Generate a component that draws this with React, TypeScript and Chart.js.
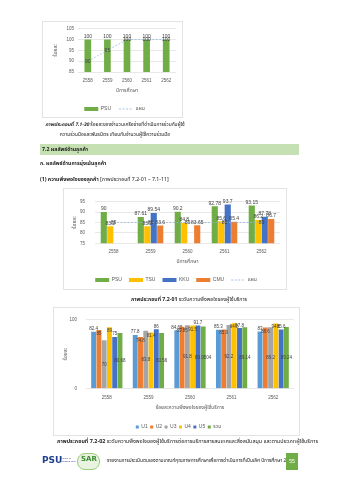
import React, { useEffect, useRef } from "react";
import { Chart, registerables } from "chart.js";

Chart.register(...registerables);

const FONT = "'Liberation Sans','Noto Sans Thai','Noto Sans Thai UI','Loma','Garuda','Tahoma','DejaVu Sans',sans-serif";
const TFONT = "'Noto Sans Thai','Noto Sans Thai UI','Loma','Garuda','Tahoma','Noto Sans','DejaVu Sans',sans-serif";

// ---------- data ----------
const years = ["2558", "2559", "2560", "2561", "2562"];

// chart 1 (ภาพประกอบที่ 7.1-30)
const c1Psu = [100, 100, 100, 100, 100];
const c1Plan = [90, 95, 100, 100, 100];
const c1Min = 85;
const c1Max = 105;
const c1Step = 5;

// chart 2 (ภาพประกอบที่ 7.2-01)
const c2Psu = [90, 87.61, 90.2, 92.78, 93.15];
const c2Tsu = [83.2, 83.2, 84.8, 85.6, 86.2];
const c2Kku = [null, 89.54, null, 93.7, 87.78];
const c2Cmu = [null, 83.6, 83.65, 85.4, 86.7];
const c2Plan = [85, 85, 85, 85, 85];
const c2Min = 75;
const c2Max = 95;
const c2Step = 5;

// chart 3 (ภาพประกอบที่ 7.2-02)
const c3U1 = [82.4, 77.8, 84.65, 85.3, 83];
const c3U2 = [85, 74.8, 89.85, 85.9, 88.6];
const c3U3 = [70, 83.8, 91.8, 92.2, 89.2];
const c3U4 = [89, 81.4, 91.5, 94.8, 94.6];
const c3U5 = [75, 86, 91.7, 87.8, 85.6];
const c3All = [80.68, 80.56, 89.9504, 89.14, 89.24];
const c3Min = 0;
const c3Max = 100;
const c3Step = 100;

// ---------- helpers ----------
const labelPlugin = {
  id: "vlabels",
  afterDatasetsDraw(chart: any) {
    const ctx = chart.ctx;
    const size = chart.options.plugins.vlabels?.size ?? 5;
    chart.data.datasets.forEach((ds: any, i: number) => {
      const meta = chart.getDatasetMeta(i);
      if (meta.hidden || !ds.labelPos) return;
      meta.data.forEach((el: any, j: number) => {
        const v = ds.data[j];
        if (v == null) return;
        ctx.save();
        ctx.font = `${size}px ${FONT}`;
        ctx.fillStyle = "#404040";
        ctx.textAlign = "center";
        let y = el.y;
        if (ds.labelPos === "end") {
          ctx.textBaseline = "bottom";
          y = el.y - 0.5;
        } else if (ds.labelPos === "insideEnd") {
          ctx.textBaseline = "top";
          y = el.y + 1.5;
        } else if (ds.labelPos === "center") {
          ctx.textBaseline = "middle";
          y = (el.y + el.base) / 2;
        } else {
          ctx.textBaseline = "middle";
        }
        ctx.fillText(String(v), el.x, y);
        ctx.restore();
      });
    });
  },
};

function legendLabels(chart: any) {
  const items = (Chart.defaults.plugins.legend.labels as any).generateLabels(chart);
  items.forEach((it: any) => {
    const ds = chart.data.datasets[it.datasetIndex];
    it.pointStyle = ds.type === "line" ? "line" : "rect";
    it.fontColor = "#595959";
    if (ds.type === "line") {
      it.lineWidth = 0.8;
      it.lineDash = [2, 1.5];
    } else {
      it.lineWidth = 0;
    }
  });
  return items;
}

type Geo = {
  yTitleLeft: number;
  yWidth: number;
  yTickPad: number;
  padRight: number;
  padTop: number;
  padBottom: number;
  xHeight: number;
  xTickPad: number;
  xTitlePadBottom: number;
  legendPad: number;
  legendBox: number;
  legendBoxH: number;
};

function makeOptions(g: Geo, min: number, max: number, step: number, xTitle: string, labelSize: number) {
  return {
    responsive: false,
    animation: false,
    devicePixelRatio: 1,
    layout: {
      padding: { left: g.yTitleLeft, right: g.padRight, top: g.padTop, bottom: g.padBottom },
    },
    font: { family: FONT },
    scales: {
      x: {
        grid: { display: false, drawTicks: false },
        border: { display: false },
        ticks: { font: { size: 4.5, family: FONT }, color: "#595959", padding: g.xTickPad, maxRotation: 0 },
        title: {
          display: true,
          text: xTitle,
          font: { size: 5, family: TFONT },
          color: "#595959",
          padding: { top: 0, bottom: g.xTitlePadBottom },
        },
        afterFit: (s: any) => {
          s.height = g.xHeight;
        },
      },
      y: {
        min,
        max,
        ticks: {
          stepSize: step,
          font: { size: 4.5, family: FONT },
          color: "#595959",
          padding: g.yTickPad,
          callback: (v: any) => String(v),
        },
        grid: { color: "#d9d9d9", lineWidth: 0.6, drawTicks: false },
        border: { display: false },
        title: {
          display: true,
          text: "ร้อยละ",
          font: { size: 5, family: TFONT },
          color: "#595959",
          padding: 0,
        },
        afterFit: (s: any) => {
          s.width = g.yWidth;
        },
      },
    },
    plugins: {
      vlabels: { size: labelSize },
      tooltip: { enabled: false },
      legend: {
        position: "bottom",
        labels: {
          usePointStyle: true,
          pointStyleWidth: g.legendBox,
          boxHeight: g.legendBoxH,
          padding: g.legendPad,
          font: { size: 5, family: FONT },
          color: "#595959",
          generateLabels: legendLabels,
          sort: (a: any, b: any) => a.datasetIndex - b.datasetIndex,
        },
      },
    },
  };
}

function ChartCanvas(props: { left: number; top: number; width: number; height: number; config: any }) {
  const ref = useRef<HTMLCanvasElement>(null);
  useEffect(() => {
    const chart = new Chart(ref.current as HTMLCanvasElement, props.config);
    return () => chart.destroy();
  }, []);
  return (
    <canvas
      ref={ref}
      width={props.width}
      height={props.height}
      style={{ position: "absolute", left: props.left, top: props.top, width: props.width, height: props.height }}
    />
  );
}

// ---------- configs ----------
const chart1Config = {
  type: "bar",
  data: {
    labels: years,
    datasets: [
      {
        type: "bar",
        label: "PSU",
        data: c1Psu,
        backgroundColor: "#70ad47",
        categoryPercentage: 0.34,
        barPercentage: 1,
        labelPos: "end",
        order: 1,
      },
      {
        type: "line",
        label: "แผน",
        data: c1Plan,
        borderColor: "#8fb4de",
        backgroundColor: "#8fb4de",
        borderWidth: 0.7,
        borderDash: [2, 1.5],
        pointRadius: 0,
        labelPos: "point",
        order: 0,
      },
    ],
  },
  options: makeOptions(
    {
      yTitleLeft: 10, yWidth: 25, yTickPad: 4, padRight: 6, padTop: 5.7, padBottom: 0.5,
      xHeight: 26.5, xTickPad: 6.3, xTitlePadBottom: 4.8, legendPad: 8, legendBox: 14, legendBoxH: 4,
    },
    c1Min, c1Max, c1Step, "ปีการศึกษา", 5
  ),
  plugins: [labelPlugin],
};

const chart2Config = {
  type: "bar",
  data: {
    labels: years,
    datasets: [
      { type: "bar", label: "PSU", data: c2Psu, backgroundColor: "#70ad47", categoryPercentage: 0.7, barPercentage: 0.95, labelPos: "end", order: 1 },
      { type: "bar", label: "TSU", data: c2Tsu, backgroundColor: "#ffc000", categoryPercentage: 0.7, barPercentage: 0.95, labelPos: "end", order: 1 },
      { type: "bar", label: "KKU", data: c2Kku, backgroundColor: "#4472c4", categoryPercentage: 0.7, barPercentage: 0.95, labelPos: "end", order: 1 },
      { type: "bar", label: "CMU", data: c2Cmu, backgroundColor: "#ed7d31", categoryPercentage: 0.7, barPercentage: 0.95, labelPos: "end", order: 1 },
      {
        type: "line",
        label: "แผน",
        data: c2Plan,
        borderColor: "#8fb4de",
        backgroundColor: "#8fb4de",
        borderWidth: 0.7,
        borderDash: [2, 1.5],
        pointRadius: 0,
        labelPos: "point",
        order: 0,
      },
    ],
  },
  options: makeOptions(
    {
      yTitleLeft: 8, yWidth: 23, yTickPad: 10, padRight: 6, padTop: 5, padBottom: 2.5,
      xHeight: 27.2, xTickPad: 6, xTitlePadBottom: 5.5, legendPad: 7, legendBox: 14, legendBoxH: 4,
    },
    c2Min, c2Max, c2Step, "ปีการศึกษา", 5
  ),
  plugins: [labelPlugin],
};

const c3Colors = ["#5b9bd5", "#ed7d31", "#a5a5a5", "#ffc000", "#4472c4", "#70ad47"];
const c3Names = ["U1", "U2", "U3", "U4", "U5", "รวม"];
const c3Data = [c3U1, c3U2, c3U3, c3U4, c3U5, c3All];
const c3Pos = ["end", "insideEnd", "center", "insideEnd", "end", "center"];

const chart3Config = {
  type: "bar",
  data: {
    labels: years,
    datasets: c3Data.map((d, i) => ({
      type: "bar",
      label: c3Names[i],
      data: d,
      backgroundColor: c3Colors[i],
      categoryPercentage: 0.76,
      barPercentage: 0.93,
      labelPos: c3Pos[i],
    })),
  },
  options: makeOptions(
    {
      yTitleLeft: 9, yWidth: 23, yTickPad: 9, padRight: 5, padTop: 6.5, padBottom: 0.5,
      xHeight: 33.5, xTickPad: 6.8, xTitlePadBottom: 11, legendPad: 2.5, legendBox: 3, legendBoxH: 3,
    },
    c3Min, c3Max, c3Step, "ร้อยละความพึงพอใจของผู้ใช้บริการ", 4.5
  ),
  plugins: [labelPlugin],
};

// ---------- page ----------
const T = (p: { x: number; y: number; size?: number; bold?: boolean; color?: string; center?: boolean; w?: number; children: any }) => (
  <div
    style={{
      position: "absolute",
      left: p.center ? p.x - (p.w ?? 200) / 2 : p.x,
      top: p.y - (p.size ?? 5.2) * 0.6,
      width: p.center ? p.w ?? 200 : undefined,
      textAlign: p.center ? "center" : "left",
      fontSize: p.size ?? 5.2,
      lineHeight: 1.2,
      fontWeight: p.bold ? 700 : 400,
      color: p.color ?? "#222",
      whiteSpace: "nowrap",
      fontFamily: TFONT,
    }}
  >
    {p.children}
  </div>
);

const Box = (p: { l: number; t: number; w: number; h: number }) => (
  <div style={{ position: "absolute", left: p.l, top: p.t, width: p.w, height: p.h, border: "1px solid #e3e3e3", boxSizing: "border-box", background: "#fff" }} />
);

export default function App() {
  return (
    <div style={{ position: "absolute", left: 0, top: 0, width: 339, height: 480, background: "#fff", overflow: "hidden", fontFamily: TFONT }}>
      {/* chart 1 */}
      <Box l={42} t={21} w={141} h={97} />
      <ChartCanvas left={43} top={22} width={139} height={100} config={chart1Config} />
      <T x={115} y={124.7} center w={180} size={4.9}>
        <b><i>ภาพประกอบที่ 7.1-30</i></b> ร้อยละของจำนวนเครือข่ายที่ดำเนินการร่วมกับผู้ใช้
      </T>
      <T x={115} y={135} center w={180} size={4.9}>
        ความร่วมมือและพันธมิตร เทียบกับจำนวนผู้ใช้ความร่วมมือ
      </T>

      {/* section header */}
      <div style={{ position: "absolute", left: 40, top: 144, width: 259, height: 10.5, background: "#c5e0b3" }} />
      <T x={42} y={149.3} bold>7.2 ผลลัพธ์ด้านลูกค้า</T>
      <T x={40} y={162.7} bold>ก. ผลลัพธ์ด้านการมุ่งเน้นลูกค้า</T>
      <T x={40} y={179}>
        <b>(1) ความพึงพอใจของลูกค้า</b> [ภาพประกอบที่ 7.2-01 – 7.1-11]
      </T>

      {/* chart 2 */}
      <Box l={63} t={188} w={224} h={102} />
      <ChartCanvas left={64} top={189} width={222} height={106} config={chart2Config} />
      <T x={189} y={299} center w={200}>
        <b>ภาพประกอบที่ 7.2-01</b> ระดับความพึงพอใจของผู้ใช้บริการ
      </T>

      {/* chart 3 */}
      <Box l={53} t={307} w={247} h={129} />
      <ChartCanvas left={54} top={308} width={245} height={132} config={chart3Config} />
      <T x={57} y={441.5} size={5.4}>
        <b>ภาพประกอบที่ 7.2-02</b> ระดับความพึงพอใจของผู้ใช้บริการต่อการบริการสารสนเทศและสิ่งสนับสนุน และตามประเภทผู้ใช้บริการ
      </T>

      {/* footer */}
      <div style={{ position: "absolute", left: 42, top: 456, fontSize: 9, fontWeight: 700, color: "#1f3f8f", fontFamily: "'DejaVu Sans',sans-serif", lineHeight: 1 }}>
        PSU
      </div>
      <div style={{ position: "absolute", left: 61, top: 458, fontSize: 2.5, color: "#1f3f8f", lineHeight: 1.1, fontFamily: FONT }}>
        Prince of<br />Songkla Univ.
      </div>
      <div style={{ position: "absolute", left: 77, top: 453, width: 23, height: 17, borderRadius: 8, background: "#e8f3e0", border: "1px solid #9ccc7c", boxSizing: "border-box" }} />
      <div style={{ position: "absolute", left: 81, top: 456, fontSize: 7, fontWeight: 700, color: "#3a8d2f", fontFamily: "'DejaVu Sans',sans-serif", lineHeight: 1 }}>
        SAR
      </div>
      <T x={107} y={461} size={4.8}>
        รายงานการประเมินตนเองตามเกณฑ์คุณภาพการศึกษาเพื่อการดำเนินการที่เป็นเลิศ ปีการศึกษา 2562
      </T>
      <div style={{ position: "absolute", left: 286, top: 453, width: 12, height: 17, background: "#70ad47", color: "#fff", fontSize: 5, lineHeight: "17px", textAlign: "center", fontFamily: FONT }}>
        55
      </div>
    </div>
  );
}
